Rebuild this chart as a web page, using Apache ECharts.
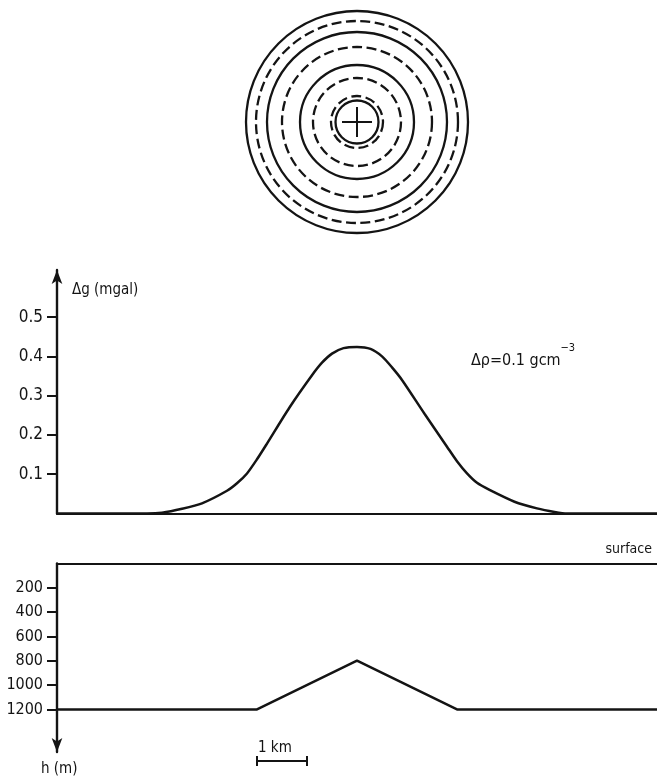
<!DOCTYPE html>
<html>
<head>
<meta charset="utf-8">
<title>Gravity anomaly of a buried cone</title>
<script src="https://cdn.jsdelivr.net/npm/echarts@6/dist/echarts.min.js"></script>
<style>
  html, body { margin: 0; padding: 0; background: #ffffff; }
  #chart { width: 657px; height: 784px; }
</style>
</head>
<body>
<div id="chart"></div>
<script>
// Plan view: contour radii of the body (km)
const circleSolidKm = [2.22, 1.80, 1.14, 0.43];
const circleDashedKm = [2.02, 1.50, 0.88, 0.52];
const crossHalfKm = 0.3;

// Gravity profile across the body centre
const profileKm = [-6, -4.2, -3.9, -3.5, -3.1, -2.6, -2.4, -2.2, -2.0, -1.8, -1.35, -0.9, -0.7, -0.5, -0.27, 0,
                   0.27, 0.5, 0.7, 0.9, 1.35, 1.8, 2.0, 2.2, 2.4, 2.65, 3.15, 3.6, 3.95, 4.2, 6];
const gravityMgal = [0, 0, 0.002, 0.012, 0.026, 0.058, 0.077, 0.102, 0.138, 0.178, 0.270, 0.352, 0.384, 0.407, 0.421, 0.424,
                     0.419, 0.400, 0.372, 0.340, 0.254, 0.170, 0.133, 0.102, 0.078, 0.060, 0.030, 0.013, 0.004, 0, 0];
const gravityTicks = [0.1, 0.2, 0.3, 0.4, 0.5];

// Cross-section of the body (depth of its top, m)
const bodyKm = [-6, -2, 0, 2, 6];
const bodyDepthM = [1200, 1200, 800, 1200, 1200];
const depthTicks = [200, 400, 600, 800, 1000, 1200];

// Scale bar extent (km)
const scaleBarKm = [-2, -1];

const INK = '#141414';
const FONT = "'Liberation Sans Narrow', 'DejaVu Sans Condensed', 'Roboto Condensed', 'Noto Sans', sans-serif";

const chart = echarts.init(document.getElementById('chart'), null, { renderer: 'canvas' });

const hiddenAxis = (idx, min, max) => ({
  gridIndex: idx, type: 'value', min: min, max: max, show: false
});

const circleData = circleSolidKm.map(r => [r, 0]).concat(circleDashedKm.map(r => [r, 1]));

const option = {
  backgroundColor: '#ffffff',
  animation: false,
  grid: [
    { left: 57, right: 0, top: 0, height: 244 },
    { left: 57, right: 0, top: 270, height: 243.5 },
    { left: 57, right: 0, top: 563.4, height: 188.6 },
    { left: 57, right: 0, top: 740, height: 30 }
  ],
  xAxis: [
    hiddenAxis(0, -6, 6),
    {
      gridIndex: 1, type: 'value', min: -6, max: 6,
      axisLine: { show: true, onZero: false, lineStyle: { color: INK, width: 2.2 } },
      axisTick: { show: false }, axisLabel: { show: false }, splitLine: { show: false }
    },
    {
      gridIndex: 2, type: 'value', min: -6, max: 6, position: 'top',
      axisLine: { show: true, onZero: false, lineStyle: { color: INK, width: 2.2 } },
      axisTick: { show: false }, axisLabel: { show: false }, splitLine: { show: false }
    },
    hiddenAxis(3, -6, 6)
  ],
  yAxis: [
    hiddenAxis(0, -2.44, 2.44),
    {
      gridIndex: 1, type: 'value', min: 0, max: 0.62,
      axisLine: { show: true, onZero: false, symbol: ['none', 'arrow'], symbolSize: [8, 14],
                  lineStyle: { color: INK, width: 2.4 } },
      axisTick: { show: true, length: 10, customValues: gravityTicks,
                  lineStyle: { color: INK, width: 2 } },
      axisLabel: { show: true, customValues: gravityTicks, margin: 14,
                   color: INK, fontSize: 17, fontFamily: FONT,
                   formatter: v => v.toFixed(1) },
      splitLine: { show: false }
    },
    {
      gridIndex: 2, type: 'value', min: 0, max: 1550, inverse: true,
      axisLine: { show: true, onZero: false, symbol: ['arrow', 'none'], symbolSize: [8, 14],
                  lineStyle: { color: INK, width: 2.4 } },
      axisTick: { show: true, length: 10, customValues: depthTicks,
                  lineStyle: { color: INK, width: 2 } },
      axisLabel: { show: true, customValues: depthTicks, margin: 14,
                   color: INK, fontSize: 16, fontFamily: FONT,
                   formatter: v => String(v) },
      splitLine: { show: false }
    },
    hiddenAxis(3, 0, 1)
  ],
  series: [
    {
      // concentric contours in plan view
      type: 'custom',
      xAxisIndex: 0, yAxisIndex: 0,
      coordinateSystem: 'cartesian2d',
      data: circleData,
      encode: { x: 0, y: 1 },
      silent: true,
      renderItem: function (params, api) {
        const r = api.value(0);
        const dashed = api.value(1) === 1;
        const c = api.coord([0, 0]);
        const rp = api.size([r, 0])[0];
        return {
          type: 'circle',
          shape: { cx: c[0], cy: c[1], r: rp },
          style: { fill: 'none', stroke: INK, lineWidth: 2.3,
                   lineDash: dashed ? [10, 4.5] : null }
        };
      }
    },
    {
      // centre cross
      type: 'custom',
      xAxisIndex: 0, yAxisIndex: 0,
      coordinateSystem: 'cartesian2d',
      data: [[crossHalfKm, 0]],
      encode: { x: 0, y: 1 },
      silent: true,
      renderItem: function (params, api) {
        const h = api.value(0);
        const a = api.coord([-h, 0]), b = api.coord([h, 0]);
        const c = api.coord([0, -h]), d = api.coord([0, h]);
        const st = { stroke: INK, lineWidth: 2 };
        return {
          type: 'group',
          children: [
            { type: 'line', shape: { x1: a[0], y1: a[1], x2: b[0], y2: b[1] }, style: st },
            { type: 'line', shape: { x1: c[0], y1: c[1], x2: d[0], y2: d[1] }, style: st }
          ]
        };
      }
    },
    {
      // gravity anomaly
      type: 'line',
      xAxisIndex: 1, yAxisIndex: 1,
      data: profileKm.map((x, i) => [x, gravityMgal[i]]),
      smooth: 0.25,
      showSymbol: false,
      silent: true,
      lineStyle: { color: INK, width: 2.5 }
    },
    {
      // top of the body in cross-section
      type: 'line',
      xAxisIndex: 2, yAxisIndex: 2,
      data: bodyKm.map((x, i) => [x, bodyDepthM[i]]),
      showSymbol: false,
      silent: true,
      lineStyle: { color: INK, width: 2.5 }
    },
    {
      // scale bar
      type: 'custom',
      xAxisIndex: 3, yAxisIndex: 3,
      coordinateSystem: 'cartesian2d',
      data: [[scaleBarKm[0], scaleBarKm[1]]],
      encode: { x: [0, 1] },
      silent: true,
      renderItem: function (params, api) {
        const p1 = api.coord([api.value(0), 0.3]);
        const p2 = api.coord([api.value(1), 0.3]);
        const st = { stroke: INK, lineWidth: 2 };
        return {
          type: 'group',
          children: [
            { type: 'line', shape: { x1: p1[0], y1: p1[1], x2: p2[0], y2: p2[1] }, style: st },
            { type: 'line', shape: { x1: p1[0], y1: p1[1] - 5, x2: p1[0], y2: p1[1] + 5 }, style: st },
            { type: 'line', shape: { x1: p2[0], y1: p2[1] - 5, x2: p2[0], y2: p2[1] + 5 }, style: st },
            { type: 'text', x: p1[0] + 1, y: p1[1] - 5,
              style: { text: '1 km', fill: INK, font: '15px ' + FONT,
                       textAlign: 'left', textVerticalAlign: 'bottom' } }
          ]
        };
      }
    }
  ],
  graphic: [
    { type: 'text', left: 72, top: 283,
      style: { text: 'Δg (mgal)', fill: INK, font: '15px ' + FONT } },
    { type: 'text', left: 471, top: 343,
      style: {
        text: '{a|Δρ=0.1 gcm}{s|−3}',
        rich: {
          a: { fill: INK, fontSize: 16, fontFamily: FONT, verticalAlign: 'bottom', lineHeight: 26 },
          s: { fill: INK, fontSize: 11, fontFamily: FONT, verticalAlign: 'top', lineHeight: 26 }
        }
      } },
    { type: 'text', right: 5, top: 542,
      style: { text: 'surface', fill: INK, font: '14px ' + FONT } },
    { type: 'text', left: 41, top: 762,
      style: { text: 'h (m)', fill: INK, font: '15px ' + FONT } }
  ]
};

chart.setOption(option);
</script>
</body>
</html>
